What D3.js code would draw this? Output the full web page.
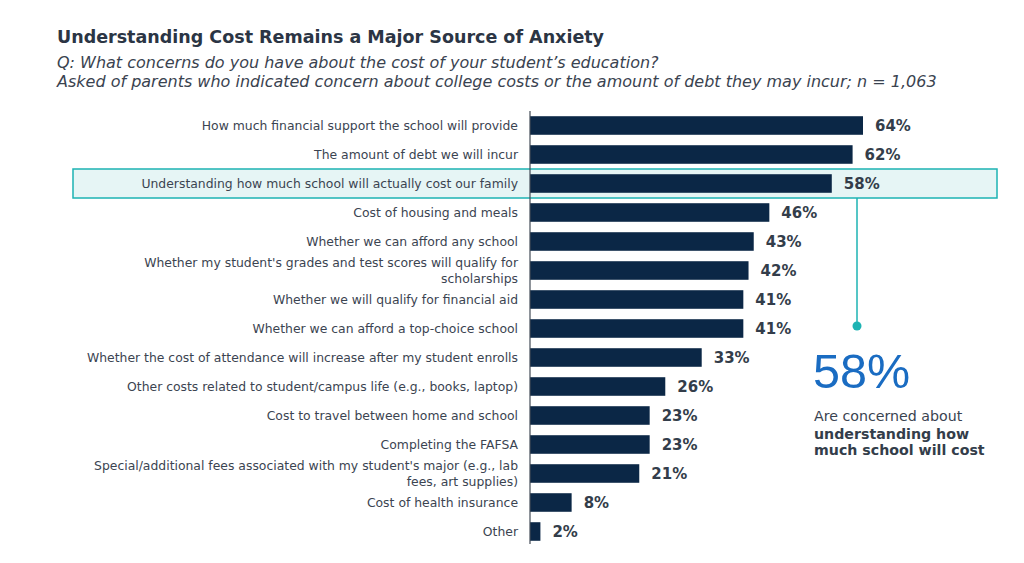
<!DOCTYPE html>
<html>
<head>
<meta charset="utf-8">
<script src="https://cdn.jsdelivr.net/npm/d3@7"></script>
<style>
  body { margin: 0; background: #fff; }
  svg { display: block; font-family: "DejaVu Sans", Verdana, sans-serif; }
</style>
</head>
<body>
<div id="chart"></div>
<script>
// Data
var categories = [
  ["How much financial support the school will provide"],
  ["The amount of debt we will incur"],
  ["Understanding how much school will actually cost our family"],
  ["Cost of housing and meals"],
  ["Whether we can afford any school"],
  ["Whether my student's grades and test scores will qualify for", "scholarships "],
  ["Whether we will qualify for financial aid"],
  ["Whether we can afford a top-choice school"],
  ["Whether the cost of attendance will increase after my student enrolls"],
  ["Other costs related to student/campus life (e.g., books, laptop)"],
  ["Cost to travel between home and school"],
  ["Completing the FAFSA"],
  ["Special/additional fees associated with my student's major (e.g., lab", "fees, art supplies)"],
  ["Cost of health insurance"],
  ["Other"]
];
var values = [64, 62, 58, 46, 43, 42, 41, 41, 33, 26, 23, 23, 21, 8, 2];
var highlightIndex = 2;

var width = 1024;
var height = 563;

var svg = d3.select("#chart")
  .append("svg")
  .attr("width", width)
  .attr("height", height);

// Scales
var xScale = d3.scaleLinear()
  .domain([0, 64])
  .range([530, 863]);

var yScale = d3.scaleBand()
  .domain(d3.range(values.length))
  .range([111, 546])
  .paddingInner(0.36)
  .paddingOuter(0.18);

// Highlight band behind the third row
var hy = yScale(highlightIndex) + yScale.bandwidth() / 2;
svg.append("rect")
  .attr("x", 73)
  .attr("y", hy - 14.5)
  .attr("width", 924)
  .attr("height", 29)
  .attr("fill", "#e6f5f5")
  .attr("stroke", "#1db3b3")
  .attr("stroke-width", 1.5);

// Title block
svg.append("text")
  .attr("x", 57)
  .attr("y", 43)
  .attr("font-size", 17.5)
  .attr("font-weight", "bold")
  .attr("fill", "#2b3544")
  .text("Understanding Cost Remains a Major Source of Anxiety");

var subtitle = [
  "Q: What concerns do you have about the cost of your student\u2019s education?",
  "Asked of parents who indicated concern about college costs or the amount of debt they may incur; n = 1,063"
];
svg.selectAll(".subtitle")
  .data(subtitle)
  .enter()
  .append("text")
  .attr("class", "subtitle")
  .attr("x", 57)
  .attr("y", function (d, i) { return 68 + i * 19; })
  .attr("font-size", 16)
  .attr("font-style", "italic")
  .attr("fill", "#3a4350")
  .text(function (d) { return d; });

// Bars
svg.selectAll(".bar")
  .data(values)
  .enter()
  .append("rect")
  .attr("class", "bar")
  .attr("x", xScale(0))
  .attr("y", function (d, i) { return yScale(i); })
  .attr("width", function (d) { return xScale(d) - xScale(0); })
  .attr("height", yScale.bandwidth())
  .attr("fill", "#0b2746");

// Value labels
svg.selectAll(".value")
  .data(values)
  .enter()
  .append("text")
  .attr("class", "value")
  .attr("x", function (d) { return xScale(d) + 12; })
  .attr("y", function (d, i) { return yScale(i) + yScale.bandwidth() / 2; })
  .attr("dy", "0.38em")
  .attr("font-size", 15)
  .attr("font-weight", "bold")
  .attr("fill", "#333d4a")
  .text(function (d) { return d + "%"; });

// Category labels
var labels = svg.selectAll(".label")
  .data(categories)
  .enter()
  .append("text")
  .attr("class", "label")
  .attr("text-anchor", "end")
  .attr("font-size", 12.4)
  .attr("fill", "#3b4451")
  .attr("transform", function (d, i) {
    return "translate(518," + (yScale(i) + yScale.bandwidth() / 2) + ")";
  });

labels.selectAll("tspan")
  .data(function (d) { return d; })
  .enter()
  .append("tspan")
  .attr("x", 0)
  .attr("y", function (d, j, nodes) {
    var n = nodes.length;
    return (j - (n - 1) / 2) * 15.5;
  })
  .attr("dy", "0.35em")
  .text(function (d) { return d; });

// Axis line
var yAxis = svg.append("g")
  .attr("transform", "translate(" + xScale(0) + ",0)")
  .call(d3.axisLeft(yScale).tickSize(0).tickFormat(""));
yAxis.select(".domain")
  .attr("d", "M0,111V544")
  .attr("stroke", "#444c57")
  .attr("stroke-width", 1.2);

// Callout connector
svg.append("line")
  .attr("x1", 857)
  .attr("x2", 857)
  .attr("y1", hy + 14.5)
  .attr("y2", 326)
  .attr("stroke", "#1db3b3")
  .attr("stroke-width", 1.5);

svg.append("circle")
  .attr("cx", 857)
  .attr("cy", 326)
  .attr("r", 4.5)
  .attr("fill", "#1db3b3");

// Callout text
svg.append("text")
  .attr("x", 813)
  .attr("y", 388)
  .attr("font-family", "'Liberation Sans', Arial, sans-serif")
  .attr("font-size", 48.5)
  .attr("fill", "#1a6cc2")
  .text(values[highlightIndex] + "%");

svg.append("text")
  .attr("x", 814)
  .attr("y", 421)
  .attr("font-size", 14.2)
  .attr("fill", "#3a4350")
  .text("Are concerned about");

var boldLines = ["understanding how", "much school will cost"];
svg.selectAll(".callout-bold")
  .data(boldLines)
  .enter()
  .append("text")
  .attr("class", "callout-bold")
  .attr("x", 814)
  .attr("y", function (d, i) { return 439 + i * 16; })
  .attr("font-size", 14.2)
  .attr("font-weight", "bold")
  .attr("fill", "#333d4a")
  .text(function (d) { return d; });
</script>
</body>
</html>
